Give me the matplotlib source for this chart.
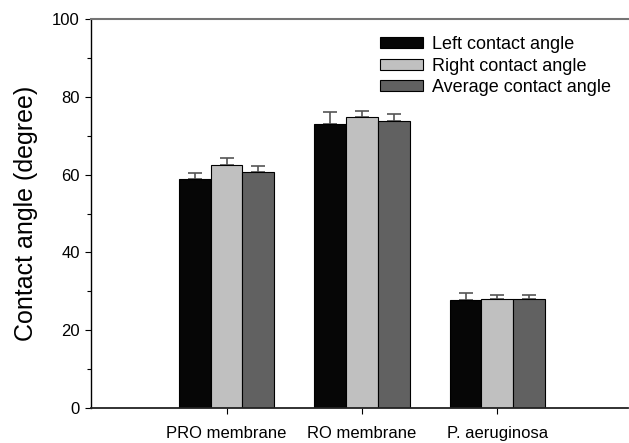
import numpy as np
import matplotlib
matplotlib.use('Agg')
import matplotlib.pyplot as plt
from matplotlib.ticker import MultipleLocator

plt.rcParams['font.family'] = ['Liberation Sans', 'DejaVu Sans']

samples = ['PRO membrane', 'RO membrane', 'P. aeruginosa']
series = ['Left contact angle', 'Right contact angle', 'Average contact angle']
left_vals = [58.8, 72.9, 27.8]
right_vals = [62.4, 74.8, 28.1]
avg_vals = [60.6, 73.9, 27.9]
left_err = [1.7, 3.1, 1.7]
right_err = [1.9, 1.5, 1.0]
avg_err = [1.7, 1.8, 1.2]
colors = ['#060606', '#c0c0c0', '#616161']

fig = plt.figure(figsize=(6.29, 4.43), dpi=100)
ax = fig.add_axes([0.1447, 0.079, 0.853, 0.878])

xx = np.arange(len(samples))
wd = 0.236
vals = [left_vals, right_vals, avg_vals]
errs = [left_err, right_err, avg_err]
for ii in range(3):
    ax.bar(xx + (ii - 1) * wd, vals[ii], wd, color=colors[ii], edgecolor='black',
           linewidth=0.8, label=series[ii], zorder=2)
    ax.errorbar(xx + (ii - 1) * wd, vals[ii], yerr=[np.zeros(3), errs[ii]], fmt='none',
                ecolor='#555555', elinewidth=1.2, capsize=5, capthick=1.2, zorder=1)

ax.set_xlim(-1.0, 2.96)
ax.set_ylim(0, 100)
ax.set_xticks(xx)
ax.set_xticklabels(samples, fontsize=12)
ax.yaxis.set_major_locator(MultipleLocator(20))
ax.yaxis.set_minor_locator(MultipleLocator(10))
ax.tick_params(axis='y', which='major', length=4.5, width=0.8, labelsize=12, direction='out')
ax.tick_params(axis='y', which='minor', length=3, width=0.8, direction='out')
ax.tick_params(axis='x', which='major', length=4, width=0.8, labelsize=12, pad=9)
ax.set_ylabel('Contact angle (degree)', fontsize=18, labelpad=10)

ax.spines['right'].set_visible(False)
ax.spines['top'].set_color('#747474')
ax.spines['top'].set_linewidth(1.5)
ax.spines['bottom'].set_color('#222222')
ax.spines['bottom'].set_linewidth(1.3)
ax.spines['left'].set_linewidth(1.0)

ax.legend(loc='upper left', bbox_to_anchor=(0.526, 0.975), frameon=False, fontsize=13,
          handlelength=2.35, handleheight=0.55, handletextpad=0.5, labelspacing=0.25,
          borderaxespad=0)

plt.savefig('out.png', dpi=100)
